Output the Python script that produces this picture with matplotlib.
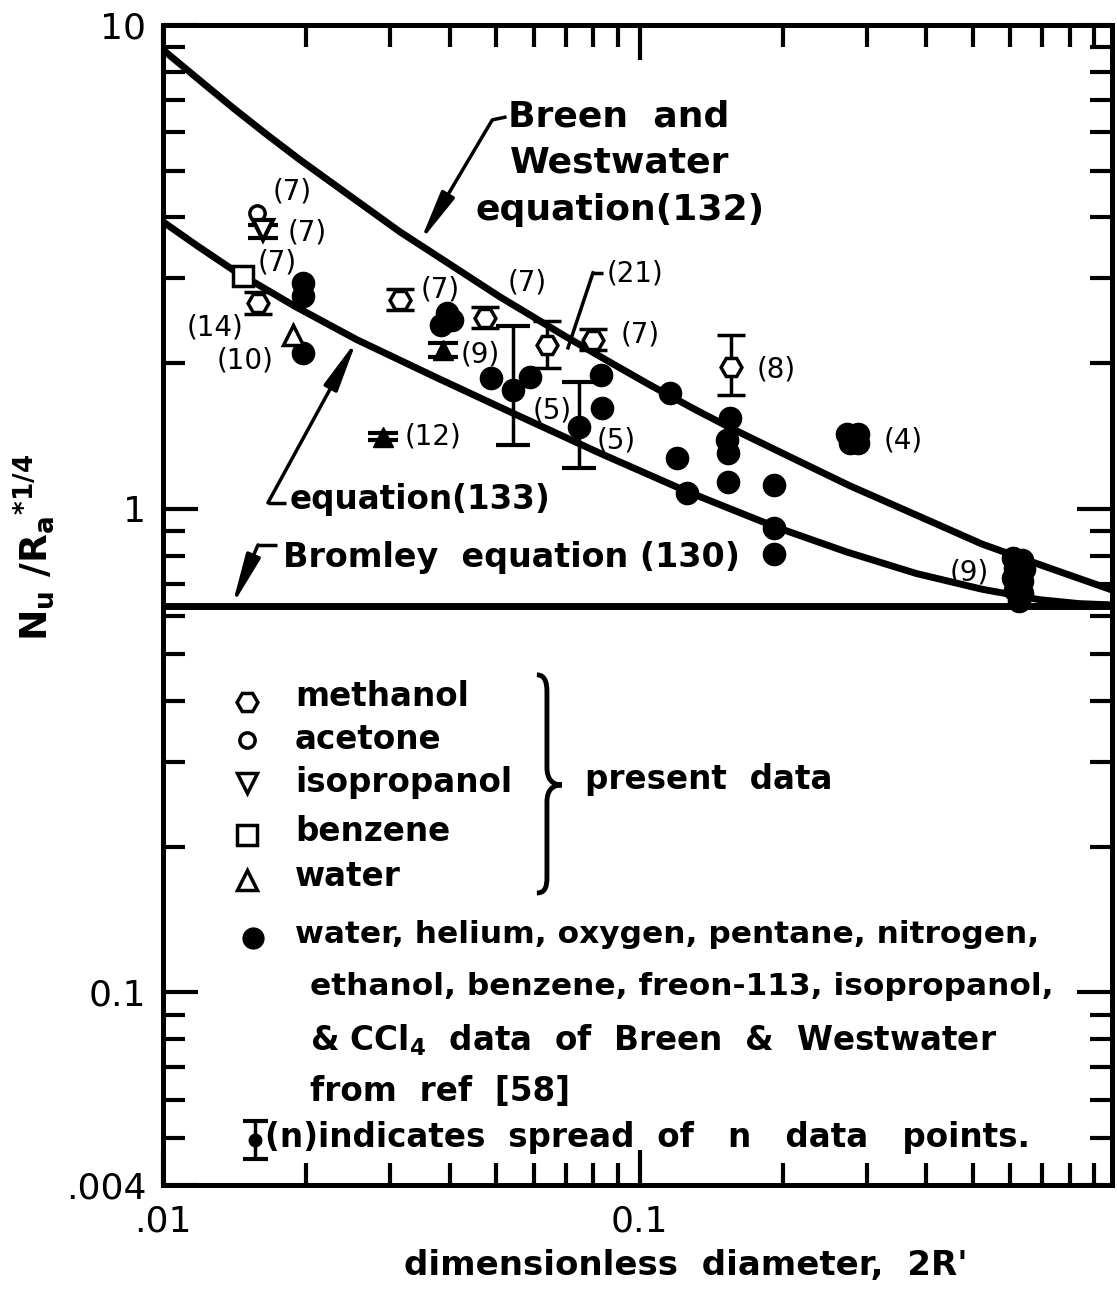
"""
Film boiling correlation chart: Nu/Ra*^1/4 vs dimensionless diameter 2R'
"""
import matplotlib
matplotlib.use('Agg')
import matplotlib.pyplot as plt
import matplotlib.ticker as mticker
from matplotlib.path import Path
from matplotlib.patches import PathPatch


# ###
# data
# ###
# Breen and Westwater equation (132)
BW_X = [0.0100, 0.01184, 0.01402, 0.01644, 0.01938, 0.02466, 0.03141, 0.03997,
        0.05087, 0.05879, 0.06896, 0.08486, 0.10495, 0.13363, 0.15663, 0.2063,
        0.2756, 0.3790, 0.5236, 0.7098, 0.98]
BW_Y = [8.88, 7.735, 6.74, 5.954, 5.262, 4.434, 3.735, 3.201,
        2.742, 2.517, 2.288, 2.032, 1.803, 1.585, 1.462, 1.281,
        1.116, 0.972, 0.8445, 0.759, 0.679]

# equation (133)
EQ_X = [0.0100, 0.01184, 0.01402, 0.01891, 0.02551, 0.03753, 0.05523, 0.08243,
        0.12551, 0.19379, 0.27164, 0.38081, 0.52362, 0.6897, 0.8365, 0.98]
EQ_Y = [3.917, 3.486, 3.117, 2.620, 2.235, 1.865, 1.562, 1.303,
        1.086, 0.9149, 0.8141, 0.7344, 0.6813, 0.6485, 0.6363, 0.6324]

# Bromley equation (130)
BROMLEY_X = [0.01, 0.98]
BROMLEY_Y = [0.630, 0.630]

# Breen & Westwater data, ref [58]
BREEN_X = [0.01966, 0.01966, 0.01966, 0.0383, 0.0404, 0.0394, 0.0489, 0.0588,
           0.0832, 0.0836, 0.1156, 0.1196, 0.1255, 0.1545, 0.1522, 0.1530,
           0.1530, 0.1919, 0.1919, 0.1915,
           0.273, 0.287, 0.276, 0.287,
           0.608, 0.636, 0.612, 0.640, 0.608, 0.636, 0.614, 0.634, 0.625]
BREEN_Y = [2.93, 2.75, 2.10, 2.40, 2.46, 2.54, 1.865, 1.874,
           1.892, 1.617, 1.737, 1.275, 1.079, 1.542, 1.389, 1.305,
           1.137, 1.121, 0.913, 0.807,
           1.43, 1.43, 1.37, 1.37,
           0.79, 0.785, 0.755, 0.75, 0.72, 0.71, 0.68, 0.67, 0.645]

# Breen & Westwater data with spread bars
SPREAD_X  = [0.0542, 0.0748]
SPREAD_Y  = [1.762, 1.477]
SPREAD_LO = [1.356, 1.215]
SPREAD_HI = [2.38, 1.83]

# present data
METH_X  = [0.01582, 0.0314, 0.0473, 0.0638, 0.0797, 0.1552]
METH_Y  = [2.66, 2.70, 2.48, 2.18, 2.235, 1.965]
METH_LO = [2.53, 2.57, 2.36, 1.956, 2.13, 1.72]
METH_HI = [2.81, 2.84, 2.61, 2.445, 2.35, 2.29]

ACET_X = [0.01574]
ACET_Y = [4.09]

ISO_X  = [0.0162]
ISO_Y  = [3.77]
ISO_LO = [3.63]
ISO_HI = [3.86]

BENZ_X = [0.01472]
BENZ_Y = [3.02]

WATER_X = [0.01873]
WATER_Y = [2.29]

WATER_F_X  = [0.0386, 0.0289]
WATER_F_Y  = [2.13, 1.409]
WATER_F_LO = [2.06, 1.385]
WATER_F_HI = [2.20, 1.433]

# ticks
X_TICKS  = [0.01, 0.1]
X_LABELS = ['.01', '0.1']
Y_TICKS  = [0.04, 0.1, 1, 10]
Y_LABELS = ['.004', '0.1', '1', '10']

# number-of-points labels (text, axes x, axes y)
COUNT_LABELS = [('(7)', 0.136, 0.856), ('(7)', 0.152, 0.821), ('(7)', 0.120, 0.795),
                ('(14)', 0.055, 0.739), ('(10)', 0.086, 0.711), ('(7)', 0.292, 0.772),
                ('(9)', 0.334, 0.716), ('(12)', 0.285, 0.645), ('(7)', 0.384, 0.778),
                ('(7)', 0.503, 0.733), ('(5)', 0.410, 0.668), ('(5)', 0.478, 0.642),
                ('(8)', 0.646, 0.703), ('(4)', 0.780, 0.642), ('(9)', 0.850, 0.528),
                ('(21)', 0.497, 0.786)]

# figure variables
PLOT_DPI   = 100
FONT_BOLD  = 23.5
FONT_LONG  = 22.5
FONT_BREEN = 26
FONT_COUNT = 20
FONT_TICK  = 26


def yerr_of(y, lo, hi):
    return [[v - l for v, l in zip(y, lo)], [h - v for v, h in zip(y, hi)]]


def draw_leader(ax, pts, arrow=True):
    # pts: hook end, corner, tip (axes fraction)
    ax.plot([pts[0][0], pts[1][0]], [pts[0][1], pts[1][1]], color='k', lw=2.5,
            transform=ax.transAxes, solid_capstyle='butt')
    if arrow:
        ax.annotate('', xy=pts[2], xytext=pts[1], xycoords='axes fraction',
                    textcoords='axes fraction',
                    arrowprops=dict(arrowstyle='-|>,head_length=1.1,head_width=0.16',
                                    lw=2.5, color='k', mutation_scale=28,
                                    shrinkA=0, shrinkB=0))
    else:
        ax.plot([pts[1][0], pts[2][0]], [pts[1][1], pts[2][1]], color='k', lw=2.5,
                transform=ax.transAxes)


def main_function():
    plt.rcParams['font.family'] = ['DejaVu Sans']
    plt.rcParams['mathtext.fontset'] = 'dejavusans'

    fig = plt.figure(figsize=(11.17, 12.96), dpi=PLOT_DPI, facecolor='w')
    ax = fig.add_axes([0.1459, 0.0857, 0.8496, 0.8951])
    ax.set_xscale('log')
    ax.set_yscale('log')
    ax.set_xlim(0.01, 0.98)
    ax.set_ylim(0.04, 10)

    # curves
    for cx, cy in [(BW_X, BW_Y), (EQ_X, EQ_Y), (BROMLEY_X, BROMLEY_Y)]:
        ax.plot(cx, cy, color='k', lw=5, zorder=2, solid_joinstyle='round')

    # data points
    ax.plot(BREEN_X, BREEN_Y, 'o', color='k', ms=16, ls='none', zorder=4)
    ax.errorbar(SPREAD_X, SPREAD_Y, yerr=yerr_of(SPREAD_Y, SPREAD_LO, SPREAD_HI),
                fmt='o', color='k', ms=16, elinewidth=2.5, capsize=12, capthick=3, zorder=4)
    ax.errorbar(METH_X, METH_Y, yerr=yerr_of(METH_Y, METH_LO, METH_HI), fmt='H',
                ms=15, mfc='w', mec='k', mew=2.5, ecolor='k', elinewidth=2.5,
                capsize=10, capthick=3, zorder=5)
    ax.plot(ACET_X, ACET_Y, 'o', ms=11, mfc='w', mec='k', mew=2.5, ls='none', zorder=5)
    ax.errorbar(ISO_X, ISO_Y, yerr=yerr_of(ISO_Y, ISO_LO, ISO_HI), fmt='v',
                ms=14, mfc='w', mec='k', mew=3, ecolor='k', elinewidth=2.5,
                capsize=11, capthick=3, zorder=5)
    ax.plot(BENZ_X, BENZ_Y, 's', ms=14, mfc='w', mec='k', mew=2.5, ls='none', zorder=5)
    ax.plot(WATER_X, WATER_Y, '^', ms=15, mfc='w', mec='k', mew=2.5, ls='none', zorder=5)
    ax.errorbar(WATER_F_X, WATER_F_Y, yerr=yerr_of(WATER_F_Y, WATER_F_LO, WATER_F_HI),
                fmt='^', ms=15, color='k', elinewidth=2.5, capsize=11, capthick=3, zorder=5)

    # count labels
    for txt, fx, fy in COUNT_LABELS:
        ax.text(fx, fy, txt, transform=ax.transAxes, fontsize=FONT_COUNT,
                ha='center', va='center')

    # curve annotations
    bold = dict(transform=ax.transAxes, fontsize=FONT_BOLD, fontweight='bold',
                ha='left', va='center')
    breen = dict(bold, fontsize=FONT_BREEN)
    ax.text(0.3635, 0.9207, 'Breen  and', **breen)
    ax.text(0.3656, 0.8810, 'Westwater', **breen)
    ax.text(0.3288, 0.8405, 'equation(132)', **breen)
    ax.text(0.1338, 0.5905, 'equation(133)', **bold)
    ax.text(0.1264, 0.5405, 'Bromley  equation (130)', **dict(bold, fontsize=24))

    draw_leader(ax, [(0.362, 0.9207), (0.347, 0.9181), (0.2708, 0.8129)])
    draw_leader(ax, [(0.130, 0.588), (0.1106, 0.588), (0.2044, 0.7284)])
    draw_leader(ax, [(0.120, 0.5517), (0.1001, 0.5517), (0.0727, 0.4991)])
    draw_leader(ax, [(0.4636, 0.7862), (0.4531, 0.7862), (0.4268, 0.7216)], arrow=False)

    # legend block
    key_x = 0.0885
    keys = [('H', 0.4164, 15), ('o', 0.3836, 11), ('v', 0.3466, 14),
            ('s', 0.3017, 14), ('^', 0.2629, 15)]
    for mk, fy, ms in keys:
        ax.plot([key_x], [fy], mk, ms=ms, mfc='w', mec='k', mew=2.5,
                transform=ax.transAxes, clip_on=False)
    for txt, fy in [('methanol', 0.4207), ('acetone', 0.3836), ('isopropanol', 0.3466),
                    ('benzene', 0.3043), ('water', 0.2655)]:
        ax.text(0.1391, fy, txt, **bold)

    brace = Path([(0.394, 0.4397), (0.402, 0.4397), (0.4046, 0.434), (0.4046, 0.425),
                  (0.4046, 0.360),
                  (0.4046, 0.350), (0.410, 0.3448), (0.4204, 0.3448),
                  (0.410, 0.3448), (0.4046, 0.340), (0.4046, 0.330),
                  (0.4046, 0.265),
                  (0.4046, 0.256), (0.402, 0.2517), (0.394, 0.2517)],
                 [Path.MOVETO, Path.CURVE4, Path.CURVE4, Path.CURVE4,
                  Path.LINETO,
                  Path.CURVE4, Path.CURVE4, Path.CURVE4,
                  Path.CURVE4, Path.CURVE4, Path.CURVE4,
                  Path.LINETO,
                  Path.CURVE4, Path.CURVE4, Path.CURVE4])
    ax.add_patch(PathPatch(brace, transform=ax.transAxes, fill=False, lw=3.5, color='k'))
    ax.text(0.4447, 0.3491, 'present  data', **bold)

    long_txt = dict(bold, fontsize=FONT_LONG)
    ax.plot([0.0948], [0.2129], 'o', ms=15, color='k', transform=ax.transAxes)
    ax.text(0.1391, 0.2155, 'water, helium, oxygen, pentane, nitrogen,', **long_txt)
    ax.text(0.1549, 0.1707, 'ethanol, benzene, freon-113, isopropanol,', **long_txt)
    ax.text(0.1549, 0.1250, r'& CCl$_\mathbf{4}$  data  of  Breen  &  Westwater', **bold)
    ax.text(0.1549, 0.0802, 'from  ref  [58]', **bold)

    ax.errorbar([0.0969], [0.0388], yerr=0.0164, fmt='o', color='k', ms=9,
                elinewidth=2.5, capsize=9, capthick=3, transform=ax.transAxes)
    ax.text(0.1075, 0.0405, '(n)indicates  spread  of   n   data   points.', **bold)

    # axes setting
    for sp in ax.spines.values():
        sp.set_linewidth(3.6)
    ax.xaxis.set_major_locator(mticker.FixedLocator(X_TICKS))
    ax.xaxis.set_major_formatter(mticker.FixedFormatter(X_LABELS))
    ax.yaxis.set_major_locator(mticker.FixedLocator(Y_TICKS))
    ax.yaxis.set_major_formatter(mticker.FixedFormatter(Y_LABELS))
    ax.xaxis.set_minor_locator(mticker.LogLocator(base=10, subs=range(2, 10), numticks=20))
    ax.yaxis.set_minor_locator(mticker.LogLocator(base=10, subs=range(2, 10), numticks=20))
    ax.xaxis.set_minor_formatter(mticker.NullFormatter())
    ax.yaxis.set_minor_formatter(mticker.NullFormatter())
    ax.tick_params(which='both', direction='in', top=True, right=True, width=3,
                   labelsize=FONT_TICK)
    ax.tick_params(which='major', length=25)
    ax.tick_params(which='minor', length=16)
    ax.tick_params(axis='x', which='major', pad=14)
    ax.tick_params(axis='y', which='major', pad=12)

    ax.set_xlabel("dimensionless  diameter,  2R'", fontsize=FONT_BOLD + 1, fontweight='bold')
    ax.xaxis.set_label_coords(0.551, -0.055)
    ax.set_ylabel(r'N$_\mathbf{u}$ /R$_\mathbf{a}$$^\mathbf{*1/4}$', fontsize=27,
                  fontweight='bold')
    ax.yaxis.set_label_coords(-0.112, 0.55)

    fig.savefig('out.png', dpi=PLOT_DPI, facecolor='w')
    plt.close(fig)


if __name__ == '__main__':
    main_function()
